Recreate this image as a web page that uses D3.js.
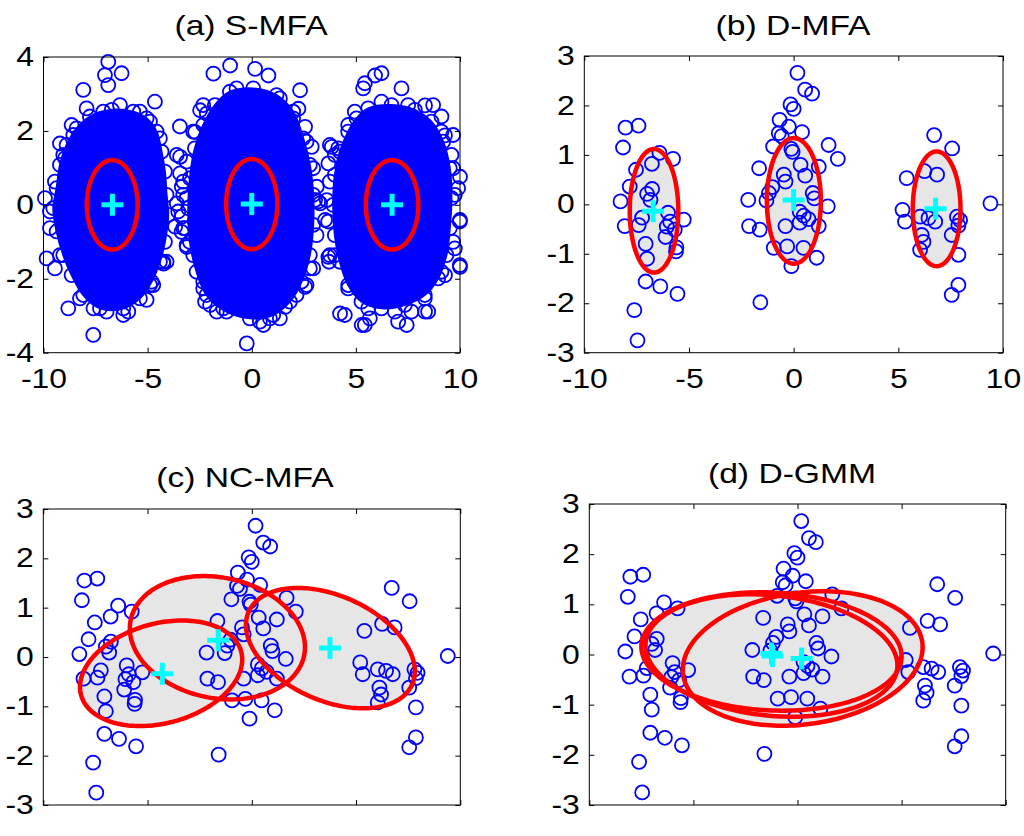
<!DOCTYPE html>
<html><head><meta charset="utf-8">
<script src="https://cdn.jsdelivr.net/npm/d3@7"></script>
<style>
body{margin:0;background:#fff}
svg{display:block}
text{font-family:"Liberation Sans",Arial,sans-serif;fill:#000}
</style>
</head><body>
<svg id="chart" width="1024" height="836"></svg>
<script>
// ---------------- DATA ----------------
const titles = ["(a) S-MFA", "(b) D-MFA", "(c) NC-MFA", "(d) D-GMM"];
const xTicks = [-10, -5, 0, 5, 10];
const yTicksA = [-4, -2, 0, 2, 4];
const yTicksB = [-3, -2, -1, 0, 1, 2, 3];

// Panel (a): dense cores (outline of the solid mass of circles) and the loose circles around them
const coreLeftA = [[-6.72,2.57],[-5.69,2.52],[-5.05,2.34],[-4.57,1.98],[-4.33,1.44],[-4.17,0.90],[-4.09,0.27],[-4.01,-0.27],[-4.17,-1.0],[-4.41,-1.54],[-4.81,-2.08],[-5.37,-2.53],[-6.17,-2.80],[-7.29,-2.80],[-8.09,-2.44],[-8.65,-1.90],[-9.05,-1.36],[-9.37,-0.72],[-9.53,-0.09],[-9.37,0.45],[-9.21,1.08],[-8.89,1.62],[-8.41,2.07],[-7.77,2.39]];
const coreMidA = [[-1.05,3.06],[0.07,3.15],[1.19,2.97],[1.99,2.52],[2.47,1.80],[2.79,1.08],[2.95,0.27],[2.95,-0.54],[2.79,-1.36],[2.39,-2.08],[1.83,-2.62],[1.03,-2.98],[-0.09,-3.07],[-1.21,-2.89],[-2.17,-2.44],[-2.65,-1.81],[-2.97,-1.0],[-3.05,-0.09],[-2.97,0.72],[-2.73,1.53],[-2.33,2.16],[-1.77,2.70]];
const coreRightA = [[5.59,2.61],[6.71,2.70],[7.83,2.57],[8.63,2.25],[9.19,1.71],[9.51,0.99],[9.59,0.18],[9.51,-0.63],[9.35,-1.36],[8.95,-1.99],[8.31,-2.44],[7.35,-2.71],[6.23,-2.80],[5.27,-2.62],[4.63,-2.17],[4.23,-1.54],[3.99,-0.82],[3.91,0.0],[3.99,0.81],[4.23,1.44],[4.63,1.98],[5.03,2.34]];
const looseA = [[-6.89,3.87],[-7.05,3.51],[-6.89,3.24],[-6.25,3.56],[-8.09,3.11],[-4.65,2.79],[-3.45,2.12],[-7.93,2.61],[-8.65,2.16],[-9.21,1.66],[-8.97,1.26],[-9.93,0.18],[-9.69,-0.18],[-9.85,-1.45],[-9.45,-1.72],[-8.81,-2.8],[-7.61,-3.52],[-7.6,-2.8],[-5.93,-2.89],[-5.05,-2.57],[-4.73,-2.17],[-4.25,-1.54],
[-3.44,1.30],[-3.44,0.85],[-3.36,0.49],[-3.6,0.04],[-3.36,-0.32],[-3.68,-0.59],[-4.24,-1.59],[-3.12,-1.14],
[-1.84,3.55],[-1.04,3.77],[0.16,3.68],[0.8,3.5],[2.32,3.1],[2.24,2.6],[-2.48,2.56],[-2.16,2.47],[-2.72,1.97],[-3.6,1.35],[-3.29,0.63],[-3.53,-0.18],[-3.37,-0.73],
[2.56,2.11],[2.88,1.57],[3.04,0.13],[3.12,0.49],[3.28,0.04],[2.95,-1.72],[2.63,-2.17],[2.56,-2.22],[1.6,-2.76],[1.35,-3.07],[0.56,-3.25],[0.39,-3.16],[-0.24,-3.75],[-1.68,-2.89],[-2.24,-2.62],[-2.0,-2.71],[-2.33,-2.08],[3.71,-1.54],
[6.23,3.56],[5.43,3.29],[5.35,3.15],[5.92,3.5],[7.19,3.15],[8.32,2.69],[8.71,2.7],[9.11,2.39],[9.28,1.88],[9.67,1.89],[9.67,0.99],[10.0,0.76],[9.91,0.45],[10.0,-0.41],[9.99,-0.45],[9.75,-1.18],[9.99,-1.63],[10.0,-1.68],[9.28,-1.9],[8.32,-2.89],[8.47,-2.89],[7.67,-2.89],[7.44,-3.25],[7.03,-3.16],[5.67,-3.07],[5.43,-3.25],[5.28,-3.25],[4.47,-2.98],[4.24,-2.94],[3.75,-1.36],[3.68,-1.41],[3.52,-0.41],[3.6,0.13],[3.68,1.12],[3.84,1.57],[3.99,1.35],[3.75,1.62],
// circles along the rims of the dense masses
[-3.13,0.18],[-3.29,-0.63],[-3.13,-1.09],[-4.09,-1.54],[-4.89,-2.17],[-6.17,-2.98],[-6.97,-2.89],[-8.25,-2.53],[-9.21,-1.36],[-9.69,-0.63],[-9.45,0.63],[-9.05,1.35],[-8.57,1.89],[-7.13,2.52],[-6.33,2.70],[-5.37,2.52],[-4.89,2.25],[-4.41,1.80],
[-2.33,2.70],[-2.81,1.98],[-3.13,1.17],[-3.29,0.27],[-3.21,-0.63],[-2.81,-1.36],[-2.33,-2.26],[-1.37,-2.80],[0.87,-3.07],[2.15,-2.44],[2.79,-1.72],[3.11,-0.82],[3.19,0.09],[2.95,0.99],[2.63,1.71],[1.99,2.34],[1.35,2.88],[-0.73,3.15],
[4.95,2.52],[6.23,2.79],[7.51,2.70],[9.11,1.98],[9.59,1.35],[9.75,0.27],[9.67,-1.0],[9.11,-1.81],[8.31,-2.53],[6.87,-2.89],[5.59,-2.80],[4.63,-2.26],[3.99,-1.36],[3.67,-0.45],[3.75,0.63],[4.15,1.53],[4.63,2.16]];

// Panels (b)-(d): the same small sample
const sampleX = [-8.03,-7.41,-8.15,-5.76,-6.41,-6.77,-7.53,-7.83,-8.27,-6.76,-7.0,-6.84,-8.07,-7.40,-7.24,-6.0,-6.06,-5.9,-5.68,-5.25,-6.12,-5.6,-5.62,-7.07,-7.0,-7.07,-6.37,-5.55,-7.61,-7.46,
 0.18,0.55,0.88,-0.15,0.0,-0.67,-0.23,-0.71,-0.57,0.4,-0.98,-0.11,-0.05,1.67,2.11,-1.65,0.33,1.2,-0.47,0.55,-0.39,-1.02,-1.18,-1.3,-2.17,0.91,0.99,1.63,0.29,0.48,0.71,0.29,1.2,-0.39,-2.13,-1.62,-0.95,-0.31,0.47,1.1,-0.11,-1.59,
 6.71,7.57,5.4,6.25,6.85,9.4,5.2,5.32,6.04,6.44,6.76,7.8,7.95,7.87,7.55,6.12,6.2,6.04,7.87,7.87,7.55];
const sampleY = [1.55,1.59,1.15,0.92,1.04,0.82,0.70,0.36,0.06,0.31,0.21,0.09,-0.44,-0.42,-0.27,-0.17,-0.45,-0.35,-0.51,-0.31,-0.66,-0.87,-0.95,-0.8,-1.1,-1.56,-1.66,-1.81,-2.14,-2.75,
 2.66,2.32,2.24,2.02,1.93,1.71,1.57,1.44,1.38,1.46,1.17,1.12,1.06,1.2,0.92,0.73,0.8,0.76,0.6,0.58,0.46,0.35,0.23,0.08,0.09,0.23,0.12,-0.04,-0.15,-0.23,-0.3,-0.37,-0.44,-0.44,-0.44,-0.51,-0.88,-0.85,-0.88,-1.08,-1.25,-1.98,
 1.4,1.13,0.53,0.67,0.6,0.02,-0.11,-0.35,-0.25,-0.28,-0.35,-0.25,-0.32,-0.43,-0.62,-0.62,-0.76,-0.92,-1.02,-1.63,-1.83];

// Component ellipses: [centre x, centre y, sd x, sd y, covariance xy]
const ellipsesA = [[-6.70,0.0,1.22,1.21,0],[0.0,0.02,1.23,1.22,0],[6.74,0.0,1.26,1.21,0]];
const ellipsesB = [[-6.67,-0.13,1.16,1.25,0],[0.01,0.07,1.29,1.27,0],[6.83,-0.09,1.14,1.16,0]];
const ellipsesC = [[-4.35,-0.33,3.89,1.07,1.08],[-1.65,0.39,4.20,1.25,-0.80],[3.77,0.18,4.05,1.22,-1.90]];
const ellipsesD = [[-1.25,0.06,6.25,1.18,-0.6],[-1.25,-0.02,6.05,1.22,-1.2],[0.25,-0.08,5.76,1.34,1.3]];
// Component means (cyan crosses)
const meansA = [[-6.69,0.0],[0.0,0.02],[6.74,0.0]];
const meansB = [[-6.71,-0.14],[0.0,0.09],[6.78,-0.09]];
const meansC = [[-4.29,-0.34],[-1.61,0.34],[3.75,0.18]];
const meansD = [[-1.25,0.02],[-1.2,-0.03],[0.2,-0.08]];

// ---------------- DRAWING ----------------
const svg = d3.select("#chart");
const sample = sampleX.map((v,i)=>[v, sampleY[i]]);
const TXS = 1.18; // horizontal stretch of the lettering
const TICKFS = 27, TITLEFS = 28.5;

const panels = [
  {title:titles[0], box:[43.5,57,460,352.7], yDom:[-4,4], yT:yTicksA, xLab:true, tx:251, ty:35,
   cores:[coreLeftA,coreMidA,coreRightA], pts:looseA, ell:ellipsesA, mu:meansA},
  {title:titles[1], box:[584.3,56,1003,352.7], yDom:[-3,3], yT:yTicksB, xLab:true, tx:793, ty:35,
   cores:[], pts:sample, ell:ellipsesB, mu:meansB},
  {title:titles[2], box:[43.3,509,460.3,805], yDom:[-3,3], yT:yTicksB, xLab:false, tx:245, ty:487,
   cores:[], pts:sample, ell:ellipsesC, mu:meansC},
  {title:titles[3], box:[589.3,504,1005.7,805], yDom:[-3,3], yT:yTicksB, xLab:false, tx:792, ty:483,
   cores:[], pts:sample, ell:ellipsesD, mu:meansD}
];

function ellipsePts(e){
  const [cx,cy,sx,sy,c] = e;
  const l21 = c/sx, l22 = Math.sqrt(sy*sy - l21*l21);
  return d3.range(0,360,2).map(a=>{const t=a*Math.PI/180;
    return [cx + sx*Math.cos(t), cy + l21*Math.cos(t) + l22*Math.sin(t)];});
}

panels.forEach(p=>{
  const [l,t,r,b] = p.box;
  const x = d3.scaleLinear().domain([-10,10]).range([l,r]);
  const y = d3.scaleLinear().domain(p.yDom).range([b,t]);
  const g = svg.append("g");
  const ellLine = d3.line().x(d=>x(d[0])).y(d=>y(d[1])).curve(d3.curveLinearClosed);
  const coreLine = d3.line().x(d=>x(d[0])).y(d=>y(d[1])).curve(d3.curveCatmullRomClosed);

  // grey fills of components
  g.selectAll("path.fill").data(p.ell).join("path").attr("class","fill")
    .attr("d", e=>ellLine(ellipsePts(e))).attr("fill","#e6e6e6").attr("stroke","none");

  // dense cores
  p.cores.forEach(c=>{
    g.append("path").attr("d", coreLine(c)).attr("fill","#0000ff").attr("stroke","#0000ff").attr("stroke-width",2);
  });
  const allPts = p.cores.flat().concat(p.pts);
  g.selectAll("circle.pt").data(allPts).join("circle").attr("class","pt")
    .attr("cx",d=>x(d[0])).attr("cy",d=>y(d[1])).attr("r",7)
    .attr("fill","none").attr("stroke","#0000ff").attr("stroke-width",1.8);

  // ellipse outlines
  g.selectAll("path.ell").data(p.ell).join("path").attr("class","ell")
    .attr("d", e=>ellLine(ellipsePts(e))).attr("fill","none").attr("stroke","#ff0000").attr("stroke-width",4.5);

  // means
  const m = g.selectAll("g.mu").data(p.mu).join("g").attr("class","mu")
    .attr("transform",d=>`translate(${x(d[0])},${y(d[1])})`);
  m.append("path").attr("d","M-11,0H11M0,-11V11").attr("stroke","#00ffff").attr("stroke-width",5).attr("fill","none");

  // axes (MATLAB style: ticks inside, all four sides)
  const fmt = d=>String(d);
  const gb = g.append("g").attr("transform",`translate(0,${b})`)
    .call(d3.axisBottom(x).tickValues(xTicks).tickSizeInner(-5).tickSizeOuter(0).tickPadding(16.5)
      .tickFormat(p.xLab ? fmt : ()=>""));
  const gt = g.append("g").attr("transform",`translate(0,${t})`)
    .call(d3.axisTop(x).tickValues(xTicks).tickSizeInner(-5).tickSizeOuter(0).tickFormat(()=>""));
  const gl = g.append("g").attr("transform",`translate(${l},0)`)
    .call(d3.axisLeft(y).tickValues(p.yT).tickSizeInner(-5).tickSizeOuter(0).tickPadding(9.5/TXS).tickFormat(fmt));
  const gr = g.append("g").attr("transform",`translate(${r},0)`)
    .call(d3.axisRight(y).tickValues(p.yT).tickSizeInner(-5).tickSizeOuter(0).tickFormat(()=>""));
  [gb,gt,gl,gr].forEach(a=>{
    a.select(".domain").remove();
    a.selectAll("line").attr("stroke","#000").attr("stroke-width",1);
    a.selectAll("text").attr("font-size",TICKFS).attr("font-family",'"Liberation Sans",Arial,sans-serif')
      .attr("fill","#000").attr("transform",`scale(${TXS},1)`);
  });
  g.append("rect").attr("x",l).attr("y",t).attr("width",r-l).attr("height",b-t)
    .attr("fill","none").attr("stroke","#000").attr("stroke-width",1);

  // title
  g.append("text").attr("transform",`translate(${p.tx},${p.ty}) scale(${TXS},1)`)
    .attr("text-anchor","middle").attr("font-size",TITLEFS).text(p.title);
});
</script>
</body></html>
